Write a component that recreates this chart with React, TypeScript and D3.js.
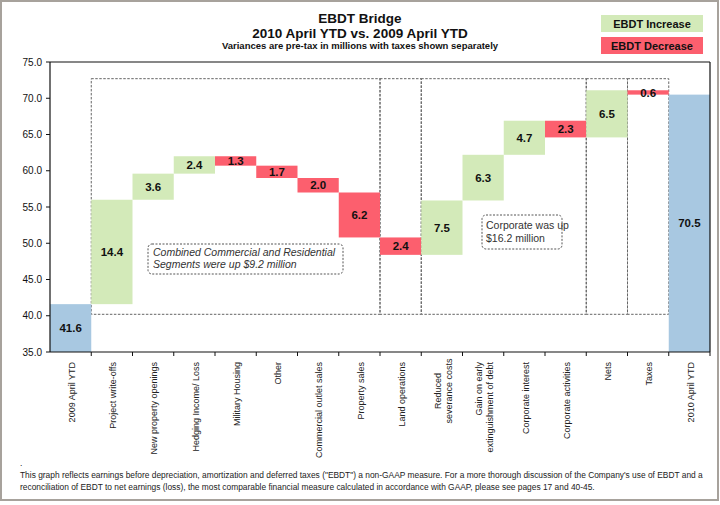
import React from "react";
import * as d3 from "d3";

const categories = [
  "2009 April YTD",
  "Project write-offs",
  "New property openings",
  "Hedging Income/ Loss",
  "Military Housing",
  "Other",
  "Commercial outlet sales",
  "Property sales",
  "Land operations",
  "Reduced\nseverance costs",
  "Gain on early\nextinguishment of debt",
  "Corporate interest",
  "Corporate activities",
  "Nets",
  "Taxes",
  "2010 April YTD",
];
// kind: total / change
const kinds = ["total", "change", "change", "change", "change", "change", "change", "change", "change", "change", "change", "change", "change", "change", "change", "total"];
const values = [41.6, 14.4, 3.6, 2.4, -1.3, -1.7, -2.0, -6.2, -2.4, 7.5, 6.3, 4.7, -2.3, 6.5, -0.6, 70.5];
const yTicks = [35, 40, 45, 50, 55, 60, 65, 70, 75];
const yDomain = [35, 75];
// group boxes: [firstIndex, lastIndex]
const groups = [[1, 7], [8, 8], [9, 12], [13, 13], [14, 14]];
const groupTop = 72.7;
const groupBottom = 40.2;

const FONT = "'Liberation Sans', Arial, Helvetica, sans-serif";
const C_UP = "#d3eab9";
const C_DOWN = "#fc5f6e";
const C_TOT = "#a8c8e1";

export default function App() {
  const W = 720, H = 505;
  const x = d3.scaleBand().domain(categories).range([50, 710]).padding(0);
  const y = d3.scaleLinear().domain(yDomain).range([352, 62]);

  let running = 0;
  const bars = values.map((v, i) => {
    let lo: number, hi: number;
    if (kinds[i] === "total") {
      lo = yDomain[0];
      hi = v;
      running = v;
    } else {
      const start = running;
      const end = running + v;
      lo = Math.min(start, end);
      hi = Math.max(start, end);
      running = end;
    }
    const fill = kinds[i] === "total" ? C_TOT : v >= 0 ? C_UP : C_DOWN;
    return { cat: categories[i], v, lo, hi, fill };
  });

  const bw = x.bandwidth();
  const dash = "2.5,1.5";

  return (
    <svg width={W} height={H} style={{ position: "absolute", left: 0, top: 0, background: "#fff" }} fontFamily={FONT}>
      <rect x={1} y={1} width={717} height={499} fill="#fff" stroke="#a7a29c" strokeWidth={2} />
      {/* titles */}
      <text x={360} y={23} textAnchor="middle" fontSize={13.5} fontWeight="bold" fill="#111">EBDT Bridge</text>
      <text x={360} y={37.5} textAnchor="middle" fontSize={13.5} fontWeight="bold" fill="#111">2010 April YTD vs. 2009 April YTD</text>
      <text x={360} y={49} textAnchor="middle" fontSize={9.5} fontWeight="bold" fill="#111">Variances are pre-tax in millions with taxes shown separately</text>

      {/* legend */}
      <rect x={601} y={15} width={102} height={17} fill={C_UP} />
      <text x={652} y={27.5} textAnchor="middle" fontSize={11} fontWeight="bold" fill="#111">EBDT Increase</text>
      <rect x={601} y={37} width={102} height={17} fill={C_DOWN} />
      <text x={652} y={49.5} textAnchor="middle" fontSize={11} fontWeight="bold" fill="#111">EBDT Decrease</text>

      {/* group dashed boxes */}
      {groups.map(([a, b], i) => {
        const x0 = x(categories[a])!;
        const x1 = x(categories[b])! + bw;
        return (
          <rect key={"g" + i} x={x0} y={y(groupTop)} width={x1 - x0} height={y(groupBottom) - y(groupTop)}
            fill="none" stroke="#666" strokeWidth={1} strokeDasharray={dash} />
        );
      })}

      {/* bars */}
      {bars.map((b, i) => (
        <rect key={"b" + i} x={x(b.cat)!} y={y(b.hi)} width={bw} height={y(b.lo) - y(b.hi)} fill={b.fill} />
      ))}
      {bars.map((b, i) => (
        <text key={"l" + i} x={x(b.cat)! + bw / 2} y={(y(b.hi) + y(b.lo)) / 2} dy="0.36em" textAnchor="middle"
          fontSize={11.5} fontWeight="bold" fill="#111">
          {Math.abs(b.v).toFixed(1)}
        </text>
      ))}

      {/* annotations */}
      <rect x={148} y={244} width={195} height={30} rx={4} fill="#fff" stroke="#555" strokeWidth={1} strokeDasharray="2,1.5" />
      <text x={153} y={256} fontSize={10.5} fontStyle="italic" fill="#333">Combined Commercial and Residential</text>
      <text x={153} y={268} fontSize={10.5} fontStyle="italic" fill="#333">Segments were up $9.2 million</text>
      <rect x={482} y={215} width={80} height={34} rx={4} fill="#fff" stroke="#555" strokeWidth={1} strokeDasharray="2,1.5" />
      <text x={486} y={229} fontSize={10.5} fill="#333">Corporate was up</text>
      <text x={486} y={242} fontSize={10.5} fill="#333">$16.2 million</text>

      {/* plot frame */}
      <line x1={50} x2={710} y1={62} y2={62} stroke="#111" strokeWidth={1.2} />
      <line x1={710} x2={710} y1={62} y2={352} stroke="#111" strokeWidth={1.2} />
      <line x1={50} x2={50} y1={62} y2={352} stroke="#111" strokeWidth={1.2} />
      <line x1={50} x2={710} y1={352} y2={352} stroke="#111" strokeWidth={1.2} />

      {/* y axis */}
      {yTicks.map((t) => (
        <g key={"y" + t}>
          <line x1={46} x2={50} y1={y(t)} y2={y(t)} stroke="#111" />
          <text x={42} y={y(t)} dy="0.35em" textAnchor="end" fontSize={10} fill="#111">{t.toFixed(1)}</text>
        </g>
      ))}

      {/* x ticks */}
      {categories.map((c, i) => (
        <line key={"xt" + i} x1={x(c)! + bw} x2={x(c)! + bw} y1={352} y2={356} stroke="#111" />
      ))}
      {categories.map((c, i) => {
        const lines = c.split("\n");
        const cx = x(c)! + bw / 2 + 1;
        if (lines.length === 1) {
          return (
            <text key={"xl" + i} transform={`translate(${cx},362) rotate(-90)`} dy="0.35em" textAnchor="end" fontSize={9} fill="#222">
              {c}
            </text>
          );
        }
        const centered = i === 9;
        return (
          <g key={"xl" + i}>
            {lines.map((ln, j) => (
              <text key={j}
                transform={`translate(${cx - 5.5 + j * 11},${centered ? 391 : 362}) rotate(-90)`}
                dy="0.35em" textAnchor={centered ? "middle" : "end"} fontSize={9} fill="#222">
                {ln}
              </text>
            ))}
          </g>
        );
      })}

      {/* footnote */}
      <text x={20} y={466} fontSize={8.4} fill="#222">.</text>
      <text x={20} y={478} fontSize={8.4} fill="#222">This graph reflects earnings before depreciation, amortization and deferred taxes ("EBDT") a non-GAAP measure.  For a more thorough discussion of the Company's use of EBDT and a</text>
      <text x={20} y={490} fontSize={8.4} fill="#222">reconciliation of EBDT  to net earnings (loss), the most comparable financial measure calculated in accordance with GAAP, please see pages 17 and  40-45.</text>
    </svg>
  );
}
